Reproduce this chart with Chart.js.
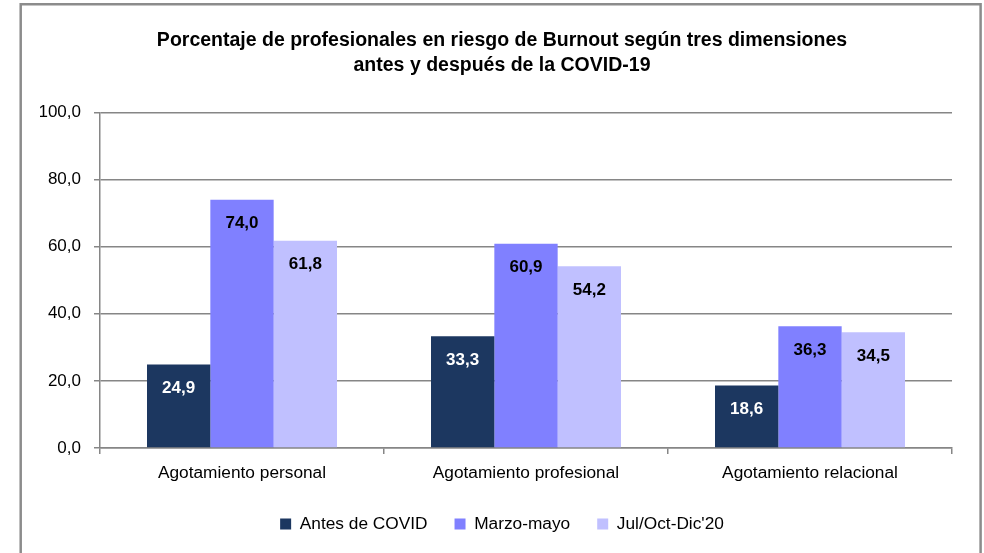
<!DOCTYPE html>
<html>
<head>
<meta charset="utf-8">
<script src="https://cdn.jsdelivr.net/npm/chart.js@4/dist/chart.umd.min.js"></script>
<style>
  html, body { margin: 0; padding: 0; background: #ffffff; }
  #wrap { width: 984px; height: 553px; position: relative; }
</style>
</head>
<body>
<div id="wrap"><canvas id="c" width="984" height="553"></canvas></div>
<script>
const chartTitle = ['Porcentaje de profesionales en riesgo de Burnout según tres dimensiones', 'antes y después de la COVID-19'];
const categories = ['Agotamiento personal', 'Agotamiento profesional', 'Agotamiento relacional'];
const seriesNames = ['Antes de COVID', 'Marzo-mayo', "Jul/Oct-Dic'20"];
const antesCovid = [24.9, 33.3, 18.6];
const marzoMayo = [74.0, 60.9, 36.3];
const julOctDic = [61.8, 54.2, 34.5];
const yTicks = [0, 20, 40, 60, 80, 100];

const FONT = "'Liberation Sans', Arial, sans-serif";
const colors = ['#1c3760', '#8080ff', '#c0c0ff'];
const fmt = v => Number(v).toFixed(1).replace('.', ',');

const borderPlugin = {
  id: 'outerBorder',
  beforeDraw(chart) {
    const ctx = chart.ctx;
    ctx.save();
    ctx.strokeStyle = '#8c8c8c';
    ctx.lineWidth = 2.5;
    ctx.beginPath();
    ctx.moveTo(20.7, 560);
    ctx.lineTo(20.7, 4.3);
    ctx.lineTo(980.6, 4.3);
    ctx.lineTo(980.6, 560);
    ctx.stroke();
    ctx.restore();
  }
};

const labelPlugin = {
  id: 'barLabels',
  afterDatasetsDraw(chart) {
    const ctx = chart.ctx;
    ctx.save();
    ctx.font = 'bold 17px ' + FONT;
    ctx.textAlign = 'center';
    ctx.textBaseline = 'middle';
    chart.data.datasets.forEach((ds, di) => {
      const meta = chart.getDatasetMeta(di);
      meta.data.forEach((bar, i) => {
        ctx.fillStyle = di === 0 ? '#ffffff' : '#000000';
        ctx.fillText(fmt(ds.data[i]), bar.x, bar.y + 24);
      });
    });
    ctx.restore();
  }
};

new Chart(document.getElementById('c'), {
  type: 'bar',
  data: {
    labels: categories,
    datasets: [
      { label: seriesNames[0], data: antesCovid, backgroundColor: colors[0] },
      { label: seriesNames[1], data: marzoMayo, backgroundColor: colors[1] },
      { label: seriesNames[2], data: julOctDic, backgroundColor: colors[2] }
    ]
  },
  options: {
    responsive: false,
    animation: false,
    devicePixelRatio: 1,
    layout: { padding: { left: 40, right: 20, top: 0, bottom: 10.3 } },
    datasets: { bar: { categoryPercentage: 0.669, barPercentage: 1.0, borderWidth: 0 } },
    plugins: {
      tooltip: { enabled: false },
      title: {
        display: true,
        text: chartTitle,
        color: '#000000',
        font: { family: FONT, size: 19.5, weight: 'bold', lineHeight: 1.27 },
        padding: { top: 28.2, bottom: 34.8 }
      },
      legend: {
        position: 'bottom',
        labels: {
          color: '#000000',
          font: { family: FONT, size: 17.3, lineHeight: 1.2 },
          boxWidth: 11,
          boxHeight: 11,
          padding: 27
        }
      }
    },
    scales: {
      x: {
        grid: { display: true, drawOnChartArea: false, offset: true, color: '#868686', lineWidth: 1.5, tickLength: 6 },
        border: { display: true, color: '#868686', width: 1.5 },
        ticks: { color: '#000000', font: { family: FONT, size: 17.3 }, padding: 8.5, maxRotation: 0 },
        afterFit(scale) { scale.height = 40.4; }
      },
      y: {
        min: 0,
        max: 100,
        afterBuildTicks(scale) { scale.ticks = yTicks.map(v => ({ value: v })); },
        grid: { color: '#868686', lineWidth: 1.5, tickLength: 6 },
        border: { display: true, color: '#868686', width: 1.5 },
        ticks: { color: '#000000', font: { family: FONT, size: 17 }, padding: 13, callback: v => fmt(v) },
        afterFit(scale) { scale.width = 60; }
      },
      yRight: {
        position: 'right',
        display: true,
        grid: { display: false, drawTicks: false },
        border: { display: false },
        ticks: { display: false },
        afterFit(scale) { scale.width = 12; }
      }
    }
  },
  plugins: [borderPlugin, labelPlugin]
});
</script>
</body>
</html>
